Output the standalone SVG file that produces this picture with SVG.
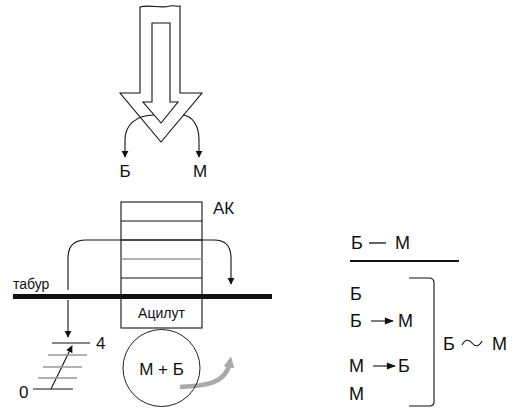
<svg xmlns="http://www.w3.org/2000/svg" width="518" height="416" viewBox="0 0 518 416">
<defs>
<style>
.t{font-family:"Liberation Sans",Arial,sans-serif;fill:#111}
.ln{fill:none;stroke:#111;stroke-width:1.1}
.gl{fill:none;stroke:#999;stroke-width:1.6}
</style>
<marker id="ah" viewBox="0 0 10 10" refX="9" refY="5" markerWidth="7" markerHeight="9" orient="auto" markerUnits="userSpaceOnUse"><path d="M0,0 L10,5 L0,10 Z" fill="#111"/></marker>
<marker id="ah2" viewBox="0 0 10 10" refX="9" refY="5" markerWidth="12" markerHeight="9" orient="auto" markerUnits="userSpaceOnUse"><path d="M0,1 L10,5 L0,9 Z" fill="#111"/></marker>
<marker id="gah" viewBox="0 0 10 10" refX="5" refY="5" markerWidth="11" markerHeight="11" orient="auto" markerUnits="userSpaceOnUse"><path d="M0,0 L10,5 L0,10 Z" fill="#aaa"/></marker>
</defs>
<rect width="518" height="416" fill="#fff"/>
<g id="bigArrow">
<path class="ln" d="M140,93 L140,7 C150,4 160,9 170,6 C174,5 177,7 180,6 L180,93 L202,93 L161,142 L120,93 Z" fill="#fff"/>
<path class="ln" d="M152,102 L152,23 L170,23 L170,102 L178,102 L161,123 L143,102 Z"/>
</g>
<g id="connectors">
<path class="ln" d="M154,115 C136,115 125,125 125,140 L125,157" marker-end="url(#ah)"/>
<path class="ln" d="M183,115 C192,116 199,125 199,140 L199,157" marker-end="url(#ah)"/>
<path class="ln" d="M68,290 L68,258 Q68,240 86,240 L214,240 Q231,240 231,258 L231,284" marker-end="url(#ah)"/>
<path class="ln" d="M68,300 L68,337" marker-end="url(#ah)"/>
<path class="ln" d="M51,389 L72,346" marker-end="url(#ah)"/>
<path d="M180,387 C205,386 226,384 230,362" fill="none" stroke="#aaa" stroke-width="4.5" marker-end="url(#gah)"/>
</g>
<g id="labelsBM">
<text class="t" x="125" y="177" font-size="17" text-anchor="middle">Б</text>
<text class="t" x="200" y="177" font-size="17" text-anchor="middle">М</text>
</g>
<g id="AK">
<rect x="121" y="202" width="81" height="126" class="ln" fill="none"/>
<line class="ln" x1="121" y1="221" x2="202" y2="221"/>
<line class="ln" x1="121" y1="240" x2="202" y2="240"/>
<line class="gl" x1="121" y1="259" x2="202" y2="259"/>
<line class="ln" x1="121" y1="278" x2="202" y2="278"/>
<text class="t" x="213" y="214" font-size="17">АК</text>
</g>
<g id="tabur">
<rect x="13" y="294" width="259" height="5" fill="#111"/>
<text class="t" x="13" y="289" font-size="14">табур</text>
</g>
<g id="atsilut">
<text class="t" x="161.5" y="318" font-size="14" text-anchor="middle">Ацилут</text>
</g>
<g id="ladder">
<line class="ln" x1="52" y1="343" x2="90" y2="343"/>
<line class="gl" x1="48" y1="355" x2="87" y2="355"/>
<line class="gl" x1="43" y1="367" x2="82" y2="367"/>
<line class="gl" x1="38" y1="378" x2="77" y2="378"/>
<line class="ln" x1="33" y1="389" x2="73" y2="389"/>
<text class="t" x="96" y="349" font-size="17">4</text>
<text class="t" x="19" y="398" font-size="17">0</text>
</g>
<g id="circle">
<circle cx="161.5" cy="368" r="38.5" fill="none" stroke="#222" stroke-width="1"/>
<text class="t" x="161.5" y="375" font-size="17" text-anchor="middle">М + Б</text>
</g>
<g id="relations">
<text class="t" x="351" y="249" font-size="18">Б</text>
<line x1="369" y1="243" x2="386" y2="243" stroke="#111" stroke-width="1.3"/>
<text class="t" x="395" y="249" font-size="18">М</text>
<line x1="350" y1="261" x2="459" y2="261" stroke="#111" stroke-width="2"/>
<text class="t" x="350" y="300" font-size="18">Б</text>
<text class="t" x="350" y="327" font-size="18">Б</text>
<line class="ln" x1="371" y1="321" x2="393" y2="321" marker-end="url(#ah2)"/>
<text class="t" x="398" y="327" font-size="18">М</text>
<text class="t" x="349" y="372" font-size="18">М</text>
<line class="ln" x1="373" y1="366" x2="395" y2="366" marker-end="url(#ah2)"/>
<text class="t" x="398" y="372" font-size="18">Б</text>
<text class="t" x="349" y="400" font-size="18">М</text>
<path class="ln" d="M409,278 L429,278 Q434,278 434,283 L434,402 Q434,406 429,406 L409,406"/>
<text class="t" x="443" y="350" font-size="18">Б</text>
<path class="ln" d="M462,345 C465,339 469,339 472,343 C475,347 479,347 482,341" stroke-width="1.2"/>
<text class="t" x="492" y="350" font-size="18">М</text>
</g>
</svg>
